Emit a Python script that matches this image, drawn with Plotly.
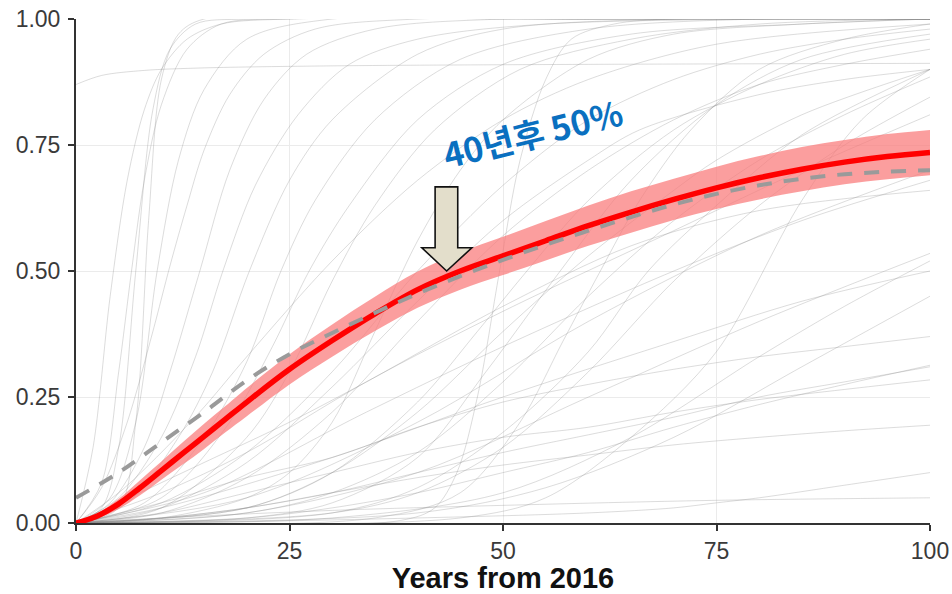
import plotly.graph_objects as go

# ---------------- data ----------------
X_TICKS = [0, 25, 50, 75, 100]
Y_TICKS = [0.0, 0.25, 0.5, 0.75, 1.0]
Y_TICK_LABELS = ["0.00", "0.25", "0.50", "0.75", "1.00"]

# mean forecast (red) with its band
RED_X = [0, 2.5, 5, 7.5, 10, 12.5, 15, 17.5, 20, 25, 30, 35, 40, 45, 50, 55, 60, 65, 70,
         75, 80, 85, 90, 95, 100]
RED_Y = [0, 0.014, 0.038, 0.07, 0.104, 0.138, 0.172, 0.206, 0.24, 0.305, 0.362, 0.415, 0.463,
         0.50, 0.53, 0.56, 0.59, 0.617, 0.642, 0.665, 0.685, 0.702, 0.716, 0.727, 0.735]
RED_LO = [0, 0.009, 0.028, 0.055, 0.086, 0.116, 0.147, 0.18, 0.212, 0.275, 0.33, 0.381, 0.427,
          0.463, 0.492, 0.521, 0.55, 0.576, 0.601, 0.623, 0.642, 0.658, 0.672, 0.682, 0.69]
RED_HI = [0, 0.019, 0.048, 0.085, 0.122, 0.16, 0.197, 0.232, 0.268, 0.335, 0.394, 0.449, 0.499,
          0.537, 0.568, 0.599, 0.63, 0.658, 0.683, 0.707, 0.728, 0.746, 0.76, 0.772, 0.78]

# dashed grey reference curve
DASH_X = [0, 5, 10, 15, 20, 25, 30, 35, 40, 45, 50, 55, 60, 65, 70, 75, 80, 85, 90, 95, 100]
DASH_Y = [0.05, 0.10, 0.16, 0.22, 0.283, 0.335, 0.377, 0.417, 0.455, 0.49, 0.522, 0.552, 0.58,
          0.607, 0.632, 0.653, 0.67, 0.683, 0.692, 0.697, 0.70]

# individual forecasts (thin grey curves), each a list of (year, probability)
GRAY_CURVES = [
    [(0, .87), (3, .888), (8, .898), (15, .903), (30, .907), (60, .91), (100, .912)],
    [(0, 0), (2, .15), (4, .45), (6, .68), (8, .82), (10, .9), (13, .96), (17, .99), (25, 1), (60, 1), (100, 1)],
    [(0, 0), (3, .03), (5, .15), (7, .5), (9, .82), (11, .94), (14, .99), (20, 1), (60, 1), (100, 1)],
    [(0, 0), (5, .03), (7, .2), (8.5, .6), (10, .88), (12, .97), (15, 1), (50, 1), (100, 1)],
    [(0, 0), (3, .08), (5, .3), (6.5, .5), (8, .68), (10, .83), (13, .94), (17, .99), (25, 1), (60, 1), (100, 1)],
    [(0, 0), (3, .07), (6, .2), (9, .38), (11, .51), (13, .63), (15, .74), (18, .85), (22, .93), (28, .98), (40, 1), (100, 1)],
    [(0, 0), (4, .05), (7, .2), (9.5, .5), (12, .72), (15, .86), (20, .96), (30, 1), (60, 1), (100, 1)],
    [(0, 0), (4, .04), (8, .15), (11, .3), (14.5, .5), (18, .7), (22, .84), (27, .93), (35, .98), (50, 1), (100, 1)],
    [(0, 0), (5, .05), (10, .17), (14, .33), (17.2, .5), (21, .67), (26, .81), (32, .91), (40, .96), (55, .99), (100, 1)],
    [(0, 0), (6, .04), (12, .17), (16, .3), (20.3, .5), (25, .68), (30, .8), (40, .93), (50, .98), (70, 1), (100, 1)],
    [(0, 0), (8, .04), (15, .17), (20, .32), (24, .5), (28, .64), (35, .8), (45, .92), (60, .98), (80, 1), (100, 1)],
    [(0, 0), (10, .05), (18, .2), (23, .35), (27.3, .5), (32, .63), (40, .8), (50, .91), (65, .97), (85, .99), (100, 1)],
    [(0, 0), (10, .03), (20, .17), (25, .3), (30, .48), (35, .63), (42, .78), (52, .9), (65, .96), (80, .99), (100, 1)],
    [(0, 0), (5, .06), (10, .14), (15, .23), (20, .33), (30, .52), (40, .68), (50, .8), (60, .88), (75, .95), (100, .99)],
    [(0, 0), (10, .04), (20, .14), (30, .3), (40, .5), (50, .67), (60, .8), (70, .88), (80, .93), (90, .96), (100, .98)],
    [(0, 0), (10, .02), (20, .09), (30, .22), (40, .4), (50, .57), (60, .7), (70, .8), (80, .87), (90, .91), (100, .94)],
    [(0, 0), (10, .03), (20, .12), (30, .27), (40, .44), (50, .6), (60, .72), (66, .78), (80, .85), (90, .88), (100, .9)],
    [(0, 0), (20, .03), (30, .1), (40, .22), (50, .38), (60, .53), (70, .66), (75, .72), (85, .81), (100, .9)],
    [(0, 0), (20, .02), (30, .06), (40, .14), (50, .28), (60, .45), (70, .6), (80, .72), (90, .81), (100, .885)],
    [(0, 0), (30, .02), (40, .06), (50, .15), (60, .3), (70, .48), (80, .63), (90, .75), (100, .845)],
    [(0, 0), (45, .01), (55, .05), (65, .17), (75, .34), (85, .64), (92, .8), (100, .9)],
    [(0, 0), (38, .005), (42, .03), (44.6, .1), (47, .25), (49.6, .5), (52, .72), (55, .88), (58, .96), (63, .99), (70, 1), (100, 1)],
    [(0, 0), (10, .01), (20, .05), (25, .1), (30, .2), (35, .38), (40, .56), (45, .7), (50, .8), (60, .92), (70, .97), (85, .99), (100, 1)],
    [(0, 0), (20, .01), (30, .04), (40, .13), (48, .3), (56.7, .5), (65, .68), (75, .83), (85, .92), (100, .97)],
    [(0, 0), (35, .01), (45, .06), (52, .2), (57, .36), (61.4, .5), (66, .64), (72, .78), (80, .9), (90, .96), (100, .99)],
    [(0, 0), (30, .02), (40, .07), (50, .18), (60, .34), (67, .5), (75, .63), (85, .77), (100, .9)],
    [(0, 0), (20, .03), (30, .1), (40, .24), (47, .38), (52.8, .5), (60, .64), (70, .78), (80, .87), (90, .93), (100, .96)],
    [(0, 0), (20, .05), (40, .2), (60, .4), (80, .57), (100, .7)],
    [(0, 0), (20, .02), (40, .1), (60, .25), (80, .4), (100, .535)],
    [(0, 0), (30, .01), (50, .06), (65, .17), (80, .33), (90, .43), (100, .52)],
    [(0, 0), (10, .03), (30, .13), (50, .25), (70, .36), (85, .44), (100, .5)],
    [(0, 0), (40, .02), (55, .07), (70, .17), (85, .31), (100, .45)],
    [(0, 0), (10, .04), (20, .09), (30, .13), (40, .19), (50, .24), (60, .275), (70, .305), (80, .33), (90, .35), (100, .37)],
    [(0, 0), (20, .01), (30, .03), (40, .06), (50, .10), (60, .14), (70, .19), (80, .235), (90, .275), (100, .313)],
    [(0, 0), (10, .01), (20, .03), (30, .06), (40, .10), (50, .14), (60, .175), (70, .21), (80, .25), (90, .28), (100, .31)],
    [(0, 0), (10, .02), (20, .06), (30, .10), (40, .14), (50, .17), (60, .19), (70, .22), (80, .245), (90, .265), (100, .284)],
    [(0, 0), (10, .01), (20, .03), (30, .06), (40, .09), (50, .115), (60, .135), (70, .155), (80, .17), (90, .183), (100, .194)],
    [(0, 0), (20, .003), (40, .01), (60, .02), (70, .03), (75, .04), (80, .05), (90, .075), (100, .10)],
    [(0, 0), (10, .01), (30, .025), (50, .035), (75, .045), (100, .05)],
    [(0, 0), (10, .06), (20, .14), (34, .28), (50, .42), (70, .58), (85, .7), (100, .81)],
    [(0, 0), (15, .06), (34, .22), (50, .35), (70, .5), (85, .6), (100, .68)],
    [(0, 0), (5, .04), (15, .12), (25, .2), (34, .28), (50, .43), (65, .55), (80, .62), (100, .66)],
]

ANNOT_TEXT = "40년후 50%"
ARROW_TIP = (43.4, 0.50)

# ---------------- figure ----------------
fig = go.Figure()

for curve in GRAY_CURVES:
    fig.add_trace(go.Scatter(
        x=[p[0] for p in curve], y=[p[1] for p in curve], mode="lines",
        line=dict(color="rgba(140,140,140,0.3)", width=1, shape="spline", smoothing=0.9),
        hoverinfo="skip", showlegend=False))

# band
fig.add_trace(go.Scatter(x=RED_X, y=RED_LO, mode="lines", line=dict(width=0, shape="spline"),
                         showlegend=False, hoverinfo="skip"))
fig.add_trace(go.Scatter(x=RED_X, y=RED_HI, mode="lines", line=dict(width=0, shape="spline"),
                         fill="tonexty", fillcolor="rgba(250,120,120,0.72)",
                         showlegend=False, hoverinfo="skip"))
# mean
fig.add_trace(go.Scatter(x=RED_X, y=RED_Y, mode="lines",
                         line=dict(color="#FF0000", width=5.5, shape="spline"),
                         showlegend=False))
# dashed
fig.add_trace(go.Scatter(x=DASH_X, y=DASH_Y, mode="lines",
                         line=dict(color="#9A9A9A", width=4, dash="15px,12px", shape="spline"),
                         showlegend=False))

# block arrow pointing down at the tip
tx, ty = ARROW_TIP
path = (f"M {tx-1.35},0.667 L {tx+1.3},0.667 L {tx+1.3},0.546 L {tx+2.95},0.546 "
        f"L {tx},{ty} L {tx-2.9},0.546 L {tx-1.35},0.546 Z")
fig.add_shape(type="path", path=path, xref="x", yref="y",
              fillcolor="#E3DECB", line=dict(color="#111111", width=1.6), layer="above")

fig.add_annotation(x=53.5, y=0.774, xref="x", yref="y", text=f"<b>{ANNOT_TEXT}</b>",
                   showarrow=False, textangle=-14,
                   font=dict(family="Noto Sans CJK KR", size=34, color="#0A70C0"))

axis_common = dict(
    showline=True, linecolor="#333333", linewidth=2, automargin=False,
    ticks="outside", ticklen=6, tickwidth=1.6, tickcolor="#333333",
    showgrid=True, gridcolor="#EBEBEB", gridwidth=1.2, zeroline=False,
    tickfont=dict(family="Liberation Sans, Arial", size=23, color="#3A3A3A"),
)

fig.update_xaxes(range=[0, 100], tickvals=X_TICKS, ticktext=[str(v) for v in X_TICKS],
                 title=dict(text="<b>Years from 2016</b>", standoff=7,
                            font=dict(family="Liberation Sans, Arial", size=29, color="#111111")),
                 **axis_common)
fig.update_yaxes(range=[0, 1], tickvals=Y_TICKS, ticktext=Y_TICK_LABELS,
                 ticklabelstandoff=3, **axis_common)

fig.update_layout(
    width=952, height=594,
    margin=dict(l=76, r=22, t=19, b=71),
    plot_bgcolor="white", paper_bgcolor="white",
    showlegend=False,
)

fig.write_html("out.html", config={"displayModeBar": False},
               post_script="document.body.style.margin='0px';")
